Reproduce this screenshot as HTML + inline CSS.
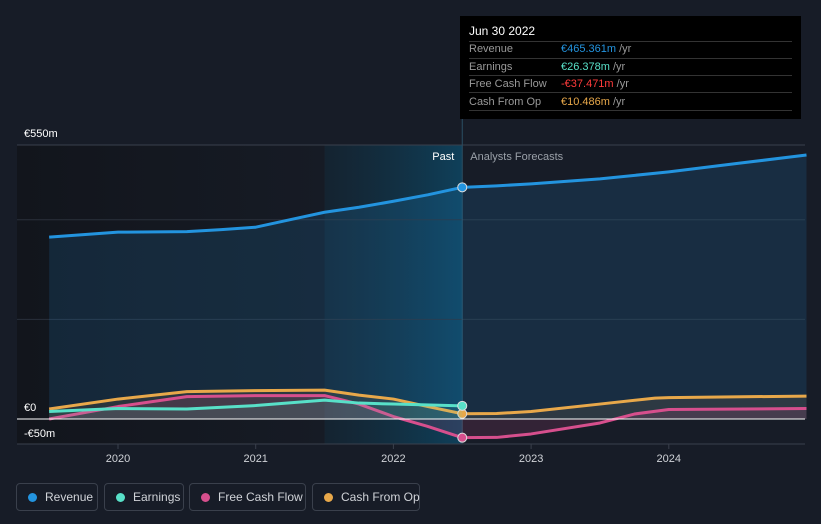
<!DOCTYPE html>
<html><head><meta charset="utf-8"><style>
body{margin:0;background:#171c27;font-family:"Liberation Sans",sans-serif;}
#wrap{position:relative;width:821px;height:524px;overflow:hidden;background:#171c27}
.leg{position:absolute;top:483px;height:28px;border:1px solid #3a404c;border-radius:4px;color:#d0d3d8;font-size:12px;line-height:26px;box-sizing:border-box;padding-left:28px;white-space:nowrap}
.leg i{position:absolute;left:11px;top:9px;width:9px;height:9px;border-radius:50%}
</style></head><body>
<div id="wrap">
<svg id="svg" width="821" height="524" style="position:absolute;left:0;top:0">
<defs>
<linearGradient id="hl" x1="0" x2="1"><stop offset="0" stop-color="#0f3447" stop-opacity="0.3"/><stop offset="1" stop-color="#0e4460" stop-opacity="0.9"/></linearGradient>
<linearGradient id="dk" x1="0" x2="1"><stop offset="0" stop-color="#12151c"/><stop offset="1" stop-color="#161b25"/></linearGradient>
</defs>
</svg>
<div style="position:absolute;left:460px;top:16px;width:341px;height:103px;background:#000">
<div style="position:absolute;left:9px;top:8px;color:#fff;font-size:12px">Jun 30 2022</div>
<div style="position:absolute;left:9px;right:9px;top:25px;border-top:1px solid #333"></div>
<div style="position:absolute;left:9px;top:25px;font-size:11px;color:#999;line-height:17.5px">Revenue<br>Earnings<br>Free Cash Flow<br>Cash From Op</div>
<div style="position:absolute;left:101px;top:25px;font-size:11px;color:#999;line-height:17.5px"><span style="color:#2394df">€465.361m</span> /yr<br><span style="color:#58e0c8">€26.378m</span> /yr<br><span style="color:#ff3b3b">-€37.471m</span> /yr<br><span style="color:#e8a84a">€10.486m</span> /yr</div>
<div style="position:absolute;left:9px;right:9px;top:42px;border-top:1px solid #333"></div>
<div style="position:absolute;left:9px;right:9px;top:59px;border-top:1px solid #333"></div>
<div style="position:absolute;left:9px;right:9px;top:76px;border-top:1px solid #333"></div>
<div style="position:absolute;left:9px;right:9px;top:94px;border-top:1px solid #333"></div>
</div>
<div class="leg" style="left:16px;width:82px"><i style="background:#2394df"></i>Revenue</div>
<div class="leg" style="left:104px;width:80px"><i style="background:#58e0c8"></i>Earnings</div>
<div class="leg" style="left:189px;width:117px"><i style="background:#d64f8d"></i>Free Cash Flow</div>
<div class="leg" style="left:312px;width:108px"><i style="background:#e8a84a"></i>Cash From Op</div>
</div>
<script>
const revX=[2019.5,2019.75,2020,2020.5,2020.75,2021,2021.25,2021.5,2021.75,2022,2022.25,2022.5,2022.75,2023,2023.5,2024,2024.5,2025];
const revY=[365,370,375,376,380,385,400,415,425,437,450,465,468,472,482,496,513,530];
const earnX=[2019.5,2020,2020.5,2021,2021.5,2021.75,2022,2022.5];
const earnY=[15,21,20,27,38,32,30,26.4];
const fcfX=[2019.5,2020,2020.5,2021,2021.5,2021.75,2022,2022.25,2022.5,2022.75,2023,2023.5,2023.75,2024,2025];
const fcfY=[0,25,45,47,47,30,5,-15,-37.5,-37,-30,-8,10,19,21];
const cfoX=[2019.5,2020,2020.5,2021,2021.5,2021.75,2022,2022.25,2022.5,2022.75,2023,2023.5,2023.9,2024,2025];
const cfoY=[20,40,55,57,58,48,40,25,10.5,11,15,30,42,43,46];
const yTicks=[550,0,-50];
const yTickLabels=["€550m","€0","-€50m"];
const gridVals=[200,400];
const xTicks=[2020,2021,2022,2023,2024];
const xs=v=>118+(v-2020)*137.7;
const ys=v=>419-v*0.4982;
const svg=document.getElementById('svg');
const NS='http://www.w3.org/2000/svg';
function mk(t,a){const e=document.createElementNS(NS,t);for(const k in a)e.setAttribute(k,a[k]);svg.appendChild(e);return e;}
const pastX=xs(2022.5), hlX=xs(2021.5);
let r=mk('rect',{x:17,y:145,width:hlX-17,height:299,fill:'url(#dk)'});

r=mk('rect',{x:hlX,y:145,width:pastX-hlX,height:299,fill:'url(#hl)'});

gridVals.forEach(v=>mk('line',{x1:17,x2:805,y1:ys(v),y2:ys(v),stroke:'#2a303b','stroke-width':1}));
mk('line',{x1:17,x2:805,y1:ys(550),y2:ys(550),stroke:'#3a404c'});
mk('line',{x1:pastX,x2:pastX,y1:16,y2:444,stroke:'#2a4f63'});
function pts(X,Y){return X.map((x,i)=>[xs(x),ys(Y[i])]);}
function draw(X,Y,col,name,fillOp){
 const p=pts(X,Y);const d='M'+p.map(q=>q.join(',')).join('L');
 let a=mk('path',{d:d+`L${p[p.length-1][0]},${ys(0)}L${p[0][0]},${ys(0)}Z`,fill:col,'fill-opacity':fillOp});
 
 let l=mk('path',{d:d,fill:'none',stroke:col,'stroke-width':3,'stroke-linejoin':'round'});
 
 const i=X.indexOf(2022.5);
 if(i>=0){let c=mk('circle',{cx:xs(2022.5),cy:ys(Y[i]),r:4.5,fill:col,stroke:'#ddd','stroke-width':1});
 }
}
draw(revX,revY,'#2394df','revenue',0.15);
draw(cfoX,cfoY,'#e8a84a','cash-from-op',0.1);
draw(fcfX,fcfY,'#d64f8d','free-cash-flow',0.15);
draw(earnX,earnY,'#58e0c8','earnings',0.1);
let z=mk('line',{x1:17,x2:805,y1:ys(0),y2:ys(0),stroke:'#fff','stroke-width':1});

mk('line',{x1:17,x2:805,y1:444,y2:444,stroke:'#3a404c'});
yTicks.forEach((v,i)=>{const t=mk('text',{x:24,y:v<0?ys(v)-7:ys(v)-8,fill:'#fff','font-size':11});
 t.textContent=yTickLabels[i];});
xTicks.forEach(v=>{mk('line',{x1:xs(v),x2:xs(v),y1:444,y2:449,stroke:'#3a404c'});
 const t=mk('text',{x:xs(v),y:462,fill:'#d0d3d8','font-size':11,'text-anchor':'middle'});
 t.textContent=v;});
let t=mk('text',{x:pastX-8,y:160,fill:'#fff','font-size':11,'text-anchor':'end'});t.textContent='Past';

t=mk('text',{x:pastX+8,y:160,fill:'#9aa0a8','font-size':11});t.textContent='Analysts Forecasts';

</script>
</body></html>
